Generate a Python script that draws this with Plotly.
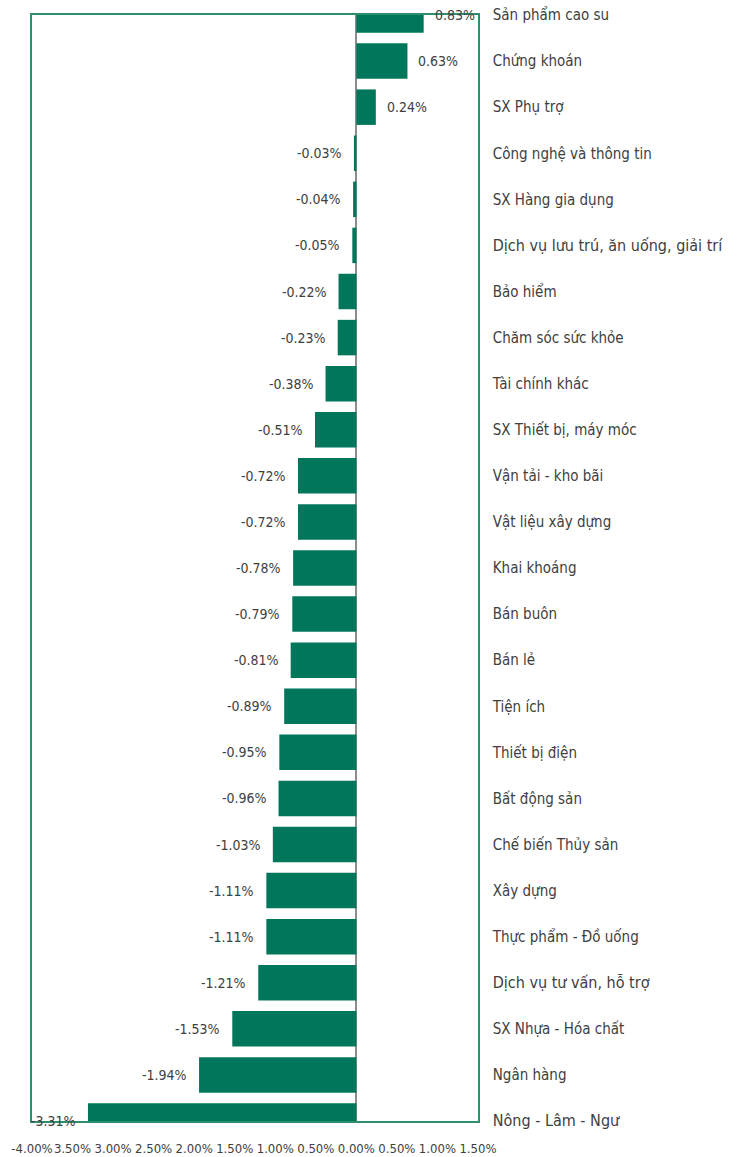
import plotly.graph_objects as go

categories = [
    "Sản phẩm cao su", "Chứng khoán", "SX Phụ trợ", "Công nghệ và thông tin",
    "SX Hàng gia dụng", "Dịch vụ lưu trú, ăn uống, giải trí", "Bảo hiểm",
    "Chăm sóc sức khỏe", "Tài chính khác", "SX Thiết bị, máy móc",
    "Vận tải - kho bãi", "Vật liệu xây dựng", "Khai khoáng", "Bán buôn",
    "Bán lẻ", "Tiện ích", "Thiết bị điện", "Bất động sản", "Chế biến Thủy sản",
    "Xây dựng", "Thực phẩm - Đồ uống", "Dịch vụ tư vấn, hỗ trợ",
    "SX Nhựa - Hóa chất", "Ngân hàng", "Nông - Lâm - Ngư",
]
values = [
    0.83, 0.63, 0.24, -0.03, -0.04, -0.05, -0.22, -0.23, -0.38, -0.51,
    -0.72, -0.72, -0.78, -0.79, -0.81, -0.89, -0.95, -0.96, -1.03,
    -1.11, -1.11, -1.21, -1.53, -1.94, -3.31,
]
large_labels = ["Dịch vụ lưu trú, ăn uống, giải trí", "Dịch vụ tư vấn, hỗ trợ", "Nông - Lâm - Ngư"]
x_tickvals = [-4.0, -3.5, -3.0, -2.5, -2.0, -1.5, -1.0, -0.5, 0.0, 0.5, 1.0, 1.5]
x_ticktext = ["-4.00%", "3.50%", "3.00%", "2.50%", "2.00%", "1.50%", "1.00%",
              "0.50%", "0.00%", "0.50%", "1.00%", "1.50%"]

FONT = "Liberation Sans Narrow, DejaVu Sans Condensed, Arial Narrow, sans-serif"
BAR = "#00775A"
FRAME = "#2E8F6E"
TXT = "#404040"

ticklabels = [
    f'<span style="font-size:16px">{c}</span>' if c in large_labels else c
    for c in categories
]

fig = go.Figure()
fig.add_trace(go.Bar(
    x=values, y=categories, orientation="h",
    marker=dict(color=BAR, line=dict(width=0)),
    width=0.77, hoverinfo="skip",
))

for c, v in zip(categories, values):
    fig.add_annotation(
        x=v, y=c, xref="x", yref="y", text=f"{v:.2f}%", showarrow=False,
        xanchor="left" if v >= 0 else "right", xshift=9 if v >= 0 else -10,
        font=dict(family=FONT, size=14, color=TXT),
    )

fig.update_layout(
    width=738, height=1157,
    margin=dict(l=32, r=260, t=15, b=36, autoexpand=False),
    paper_bgcolor="white", plot_bgcolor="white",
    showlegend=False,
    font=dict(family=FONT, size=15, color=TXT),
    xaxis=dict(
        range=[-4, 1.5], tickvals=x_tickvals, ticktext=x_ticktext,
        showgrid=False, zeroline=True, zerolinecolor="#8C8C8C", zerolinewidth=1.5,
        showline=True, linecolor=FRAME, linewidth=1.5, mirror=True,
        ticks="", ticklabelstandoff=15, tickangle=0, automargin=False,
        tickfont=dict(family=FONT, size=13, color=TXT),
    ),
    yaxis=dict(
        type="category", categoryorder="array", categoryarray=categories,
        tickvals=categories, ticktext=ticklabels,
        range=[len(categories) - 1, 0], side="right",
        showgrid=False, zeroline=False,
        showline=True, linecolor=FRAME, linewidth=1.5, mirror=True,
        ticks="", ticklabelstandoff=10, automargin=False,
        tickfont=dict(family=FONT, size=15, color=TXT),
    ),
)

fig.write_html("out.html")
